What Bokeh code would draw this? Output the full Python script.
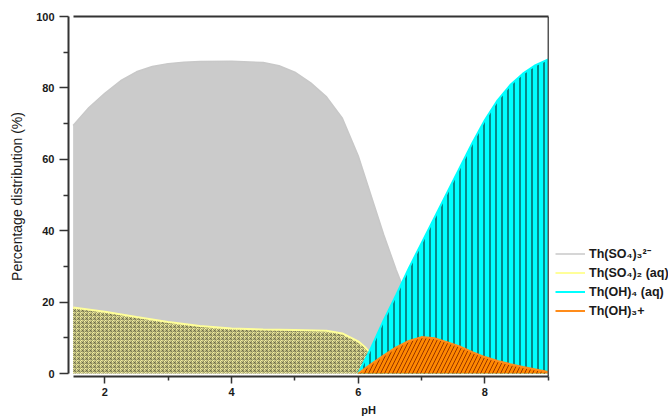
from bokeh.plotting import figure
from bokeh.models import Range1d, LinearAxis, FixedTicker, Legend, LegendItem
from bokeh.embed import file_html
from bokeh.resources import INLINE

# ---------------- data ----------------
ph_sulf3 = [1.5, 1.75, 2.0, 2.25, 2.5, 2.75, 3.0, 3.25, 3.5, 4.0, 4.5, 4.75, 5.0,
            5.25, 5.5, 5.75, 6.0, 6.2, 6.4, 6.6, 6.8, 7.0, 7.2, 7.4, 7.6]
sulf3 = [69.5, 74.5, 78.5, 82.0, 84.5, 86.0, 86.8, 87.2, 87.4, 87.5, 87.1, 86.2, 84.4,
         81.4, 77.5, 71.5, 61.0, 50.0, 39.0, 29.0, 20.0, 12.0, 5.5, 1.5, 0.0]

ph_sulf2 = [1.5, 2.0, 2.5, 3.0, 3.5, 4.0, 4.5, 5.0, 5.5, 5.75, 6.0, 6.1, 6.2, 6.3, 6.4]
sulf2 = [18.5, 17.3, 15.8, 14.4, 13.3, 12.6, 12.3, 12.2, 12.0, 11.2, 9.0, 7.5, 5.5, 3.0, 0.5]

ph_oh4 = [6.0, 6.2, 6.4, 6.6, 6.8, 7.0, 7.2, 7.4, 7.6, 7.8, 8.0, 8.2, 8.4, 8.6, 8.8, 9.0]
oh4 = [0.0, 7.0, 14.8, 22.0, 29.5, 36.5, 43.5, 50.5, 57.5, 64.5, 71.0, 76.5, 80.8, 84.0, 86.4, 88.0]

ph_oh3 = [6.0, 6.2, 6.4, 6.6, 6.8, 7.0, 7.2, 7.4, 7.6, 7.8, 8.0, 8.2, 8.4, 8.6, 8.8, 9.0]
oh3 = [0.0, 2.6, 5.0, 7.3, 9.1, 10.2, 9.9, 8.8, 7.6, 6.0, 4.6, 3.5, 2.6, 1.8, 1.1, 0.4]

labels = ["Th(SO\u2084)\u2083\u00b2\u207b", "Th(SO\u2084)\u2082 (aq)",
          "Th(OH)\u2084 (aq)", "Th(OH)\u2083+"]

x_ticks = [2, 4, 6, 8]
x_minor = [3, 5, 7, 9]
y_ticks = [0, 20, 40, 60, 80, 100]
y_minor = [10, 30, 50, 70, 90]
x_lo, x_hi = 1.5, 9.0
y_lo, y_hi = 0, 100

FONT = "Liberation Sans"
AX = "#333333"

# frame spans to the right edge so the legend (inside the frame) is not clipped;
# the axes are bounded to the data range like the reference.
p = figure(frame_width=600, frame_height=360,
           min_border_left=68, min_border_right=0, min_border_top=16, min_border_bottom=0,
           x_range=Range1d(1.427, 10.898), y_range=Range1d(-0.84, y_hi),
           output_backend="svg", toolbar_location=None, tools="")
p.outline_line_color = None
p.grid.visible = False
p.background_fill_color = "white"
p.border_fill_color = "white"

# areas
p.varea(x=ph_sulf3, y1=0, y2=sulf3, fill_color="#cbcbcb")
lg = p.line(ph_sulf3, sulf3, line_color="#c8c8c8", line_width=1.5)

p.varea(x=ph_sulf2, y1=0, y2=sulf2, fill_color="#f6f2a2",
        hatch_pattern="criss_cross", hatch_scale=4, hatch_color="#5e5e40",
        hatch_weight=1, hatch_alpha=0.6)
ly = p.line(ph_sulf2, sulf2, line_color="#ffff99", line_width=2)

p.varea(x=ph_oh4, y1=0, y2=oh4, fill_color="#00ffff",
        hatch_pattern="vertical_line", hatch_scale=6, hatch_color="#0c2c2c",
        hatch_weight=1.2, hatch_alpha=0.95)
lc = p.line(ph_oh4, oh4, line_color="#00ffff", line_width=2)

p.varea(x=ph_oh3, y1=0, y2=oh3, fill_color="#ff8800",
        hatch_pattern="right_diagonal_line", hatch_scale=8, hatch_color="#8b2a00",
        hatch_weight=1, hatch_alpha=0.9)
lo = p.line(ph_oh3, oh3, line_color="#ff8c1a", line_width=2)

# right border line of the plot box
p.segment(x0=[x_hi], y0=[-0.84], x1=[x_hi], y1=[y_hi], line_color="#555555", line_width=1.5)

# axes
xa = p.xaxis[0]
xa.bounds = (x_lo, x_hi)
xa.ticker = FixedTicker(ticks=x_ticks, minor_ticks=x_minor)
ya = p.yaxis[0]
ya.bounds = (y_lo, y_hi)
ya.ticker = FixedTicker(ticks=y_ticks, minor_ticks=y_minor)

for ax in (xa, ya):
    ax.axis_line_color = AX
    ax.axis_line_width = 2
    ax.major_tick_line_color = AX
    ax.minor_tick_line_color = AX
    ax.major_tick_line_width = 1.5
    ax.minor_tick_line_width = 1.5
    ax.major_tick_in = 0
    ax.minor_tick_in = 0
    ax.major_label_text_font = FONT
    ax.major_label_text_font_style = "bold"
    ax.major_label_text_font_size = "11px"
    ax.major_label_text_color = "#1a1a1a"
    ax.axis_label_text_font = FONT
    ax.axis_label_text_color = "#1a1a1a"

xa.major_tick_out = 7
xa.minor_tick_out = 4
xa.major_label_standoff = 4
xa.axis_label = "pH"
xa.axis_label_text_font_style = "bold"
xa.axis_label_text_font_size = "11px"
xa.axis_label_standoff = 5

ya.major_tick_out = 9
ya.minor_tick_out = 5
ya.major_label_standoff = 5
ya.axis_label = "Percentage distribution (%)"
ya.axis_label_text_font_style = "normal"
ya.axis_label_text_font_size = "14px"
ya.axis_label_standoff = 8

# top frame line
top = LinearAxis(bounds=(x_lo, x_hi), ticker=FixedTicker(ticks=[]),
                 major_label_text_font_size="0px", axis_line_color=AX, axis_line_width=2,
                 major_tick_out=0, minor_tick_out=0)
p.add_layout(top, "above")

# legend
legend = Legend(items=[LegendItem(label=labels[0], renderers=[lg]),
                       LegendItem(label=labels[1], renderers=[ly]),
                       LegendItem(label=labels[2], renderers=[lc]),
                       LegendItem(label=labels[3], renderers=[lo])],
                location=(487, 56), border_line_color=None, background_fill_alpha=0,
                padding=0, margin=0, spacing=0, glyph_width=30, glyph_height=19,
                label_height=19, label_standoff=4,
                label_text_font=FONT, label_text_font_style="bold",
                label_text_font_size="12.5px", label_text_color="#1a1a1a")
p.add_layout(legend, "center")

open("out.html", "w").write(file_html(p, INLINE))
